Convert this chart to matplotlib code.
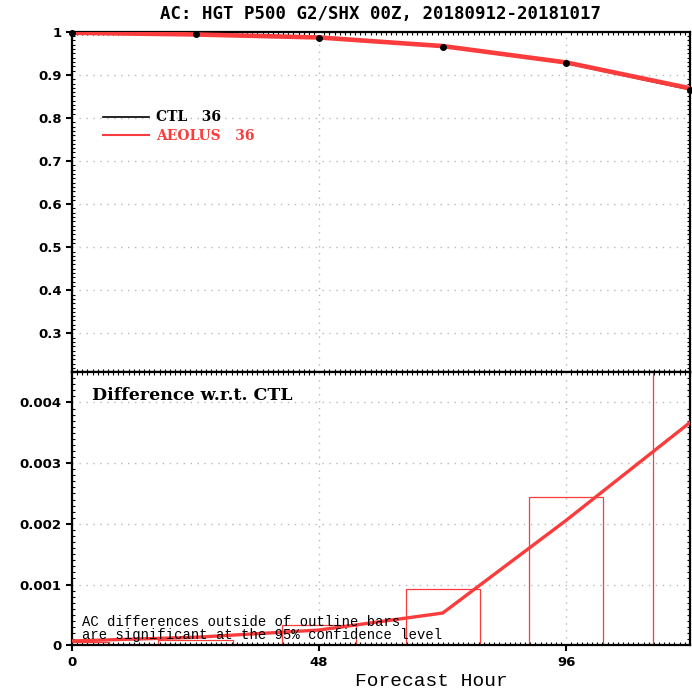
import numpy as np
import matplotlib
matplotlib.use('Agg')
import matplotlib.pyplot as plt
from matplotlib.ticker import MultipleLocator, FixedLocator

# forecast hours and anomaly correlation
hours = [0, 24, 48, 72, 96, 120]
ctl = [0.998, 0.994, 0.986, 0.966, 0.927, 0.866]
aeolus = [0.998, 0.994, 0.987, 0.967, 0.929, 0.869]

# AEOLUS - CTL and the 95% significance bar heights
diff = [0.00007, 0.00013, 0.00025, 0.00053, 0.00206, 0.00367]
bar_hi = [0.00006, 0.00008, 0.00033, 0.00093, 0.00244, 0.0046]

red = '#fa3c3c'
grid_kw = dict(color='#b8b8b8', linestyle=(0, (1, 4)), linewidth=1.0)

fig = plt.figure(figsize=(6.92, 6.93), dpi=100)
ax1 = fig.add_axes([0.104, 0.463, 0.893, 0.491])
ax2 = fig.add_axes([0.104, 0.069, 0.893, 0.394])

# top panel: AC scores
ax1.plot(hours, ctl, color='black', lw=1.2, zorder=2)
ax1.plot(hours, aeolus, color=red, lw=3.3, zorder=3, solid_capstyle='butt')
ax1.plot(hours, ctl, color='black', ls='none', marker='o', ms=4, zorder=4,
         clip_on=False)
ax1.set_xlim(0, 120)
ax1.set_ylim(0.21, 1.0)
ax1.yaxis.set_major_locator(FixedLocator([0.3, 0.4, 0.5, 0.6, 0.7, 0.8, 0.9, 1.0]))
ax1.set_yticklabels(['0.3', '0.4', '0.5', '0.6', '0.7', '0.8', '0.9', '1'])
ax1.yaxis.set_minor_locator(MultipleLocator(0.01))
ax1.xaxis.set_major_locator(FixedLocator([0, 48, 96]))
ax1.xaxis.set_minor_locator(MultipleLocator(1))
ax1.tick_params(axis='x', which='both', labelbottom=False)
ax1.grid(True, which='major', **grid_kw)

# legend drawn from proxy lines
h1, = ax1.plot([], [], color='black', lw=1.2)
h2, = ax1.plot([], [], color=red, lw=1.5)
leg = ax1.legend([h1, h2], ['CTL   36', 'AEOLUS   36'], loc='upper left',
                 bbox_to_anchor=(0.03, 0.806), frameon=False, handlelength=3.3,
                 handletextpad=0.5, labelspacing=0.3,
                 prop={'family': 'DejaVu Serif', 'weight': 'bold', 'size': 10})
leg.get_texts()[1].set_color(red)

ax1.set_title('AC: HGT P500 G2/SHX 00Z, 20180912-20181017',
              fontsize=12.5, fontweight='bold', family='DejaVu Sans Mono', pad=9)

# bottom panel: difference with significance bars
ax2.bar(hours, bar_hi, width=14.4, fill=False, edgecolor=red, lw=0.9, zorder=2)
ax2.plot(hours, diff, color=red, lw=2.4, zorder=3)
ax2.set_xlim(0, 120)
ax2.set_ylim(0, 0.0045)
ax2.yaxis.set_major_locator(FixedLocator([0, 0.001, 0.002, 0.003, 0.004]))
ax2.set_yticklabels(['0', '0.001', '0.002', '0.003', '0.004'])
ax2.yaxis.set_minor_locator(MultipleLocator(0.0001))
ax2.xaxis.set_major_locator(FixedLocator([0, 48, 96]))
ax2.set_xticklabels(['0', '48', '96'])
ax2.xaxis.set_minor_locator(MultipleLocator(1))
ax2.grid(True, which='major', **grid_kw)

ax2.text(0.032, 0.915, 'Difference w.r.t. CTL', transform=ax2.transAxes,
         fontsize=12.5, fontweight='bold', family='DejaVu Serif', va='center')
ax2.text(0.016, 0.062, 'AC differences outside of outline bars\n'
         'are significant at the 95% confidence level',
         transform=ax2.transAxes, fontsize=10, family='Liberation Mono',
         va='center', linespacing=0.95, zorder=5)

for ax in (ax1, ax2):
    for s in ax.spines.values():
        s.set_linewidth(1.6)
    ax.tick_params(which='major', direction='out', length=4, width=1.5,
                   labelsize=9.5)
    ax.tick_params(which='minor', direction='in', length=2, width=0.8,
                   top=True, right=True)
    for lab in ax.get_yticklabels() + ax.get_xticklabels():
        lab.set_fontweight('bold')

fig.text(0.623, 0.016, 'Forecast Hour', fontsize=14, family='Liberation Mono',
         ha='center', va='center')

fig.savefig('out.png', dpi=100)
